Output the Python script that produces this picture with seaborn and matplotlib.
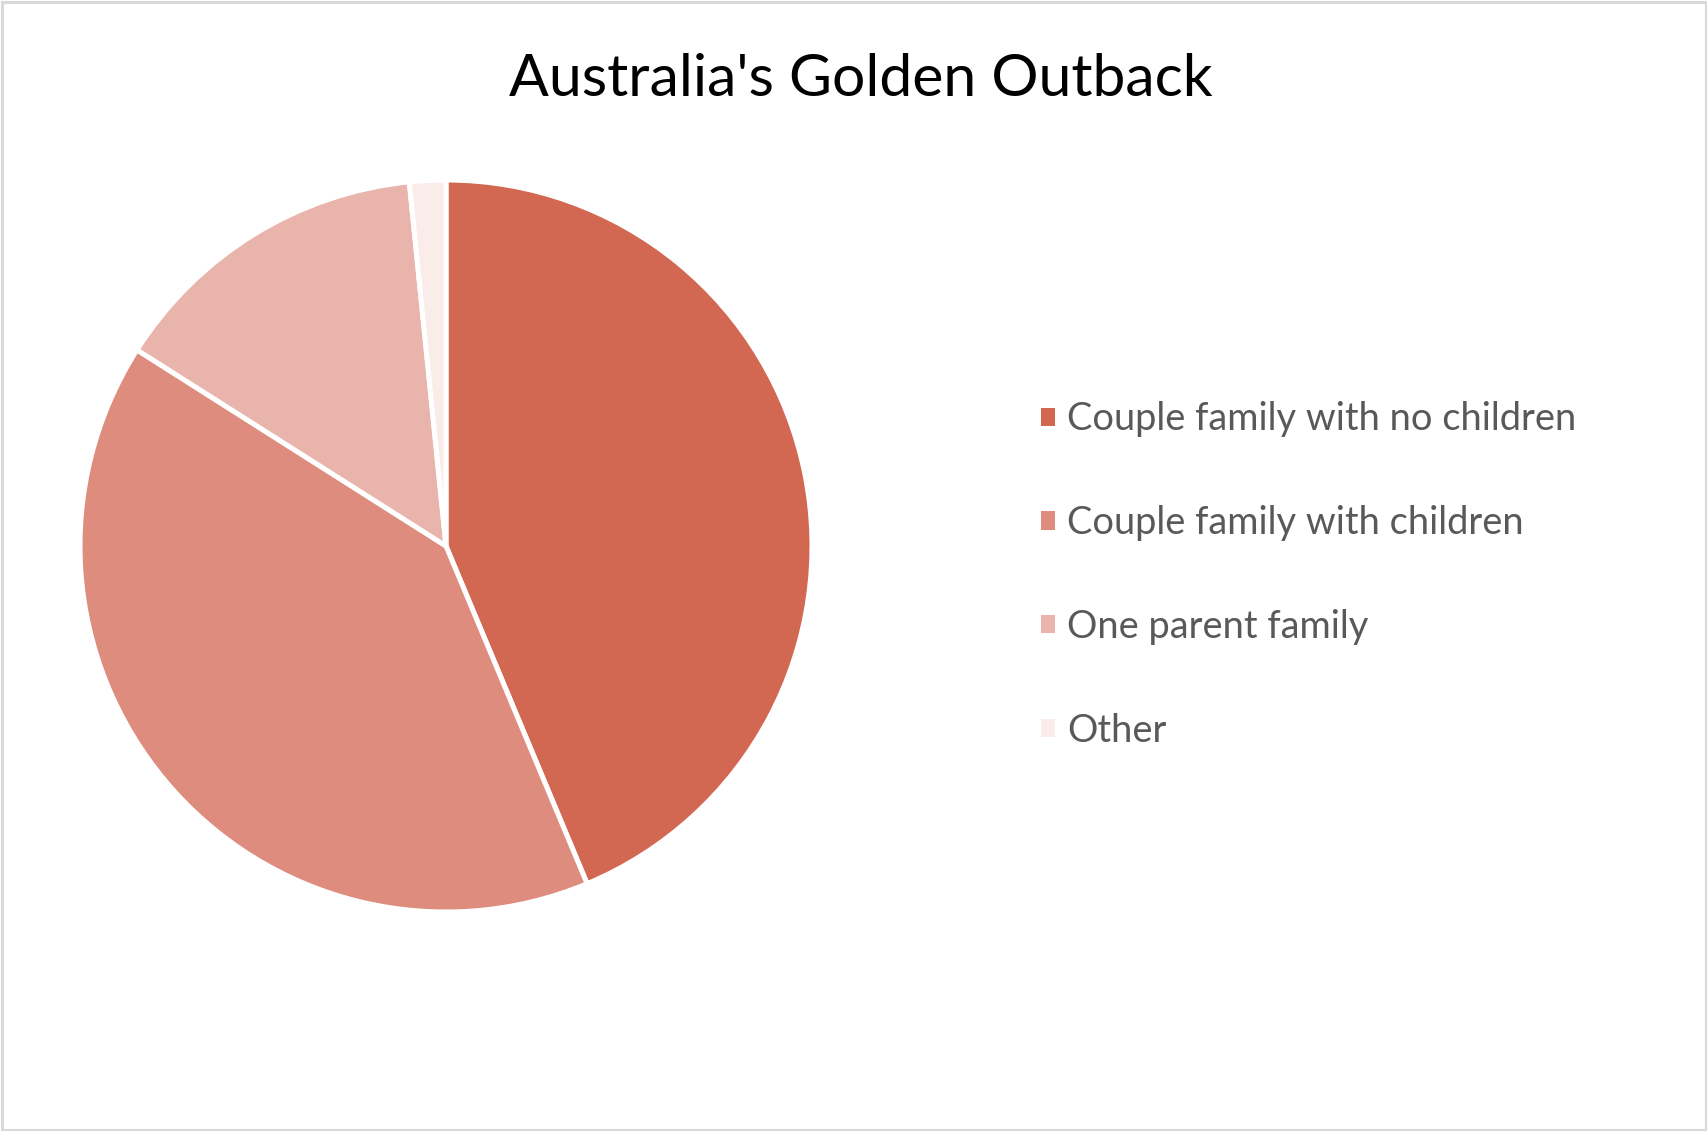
import matplotlib
matplotlib.use("Agg")
import matplotlib.pyplot as plt
import seaborn as sns
from matplotlib.patches import Rectangle

categories = ["Couple family with no children", "Couple family with children",
              "One parent family", "Other"]
values = [43.7, 40.3, 14.4, 1.6]
colors = ["#D26752", "#DD8C7E", "#E8B4AB", "#F9ECE9"]
title = "Australia's Golden Outback"

sns.set_theme(style="white")
plt.rcParams['font.family'] = ['Lato', 'DejaVu Sans']

W, H = 1708, 1131
fig = plt.figure(figsize=(W / 100, H / 100), dpi=100)
fig.patch.set_facecolor("white")

# border
fig.add_artist(Rectangle((0.001, 0.001), 0.998, 0.997, transform=fig.transFigure,
                         fill=False, edgecolor="#D9D9D9", linewidth=2.2))

cx, cy, r = 446, 546, 366
ax = fig.add_axes([(cx - r) / W, 1 - (cy + r) / H, 2 * r / W, 2 * r / H])
wedges, _ = ax.pie(values, colors=colors, startangle=90, counterclock=False,
                   wedgeprops=dict(edgecolor="white", linewidth=3.6))
ax.set_xlim(-1, 1)
ax.set_ylim(-1, 1)
ax.set_aspect("equal")
ax.axis("off")

fig.text(861 / W, 1 - 80 / H, title, ha="center", va="center",
         fontsize=42.4, color="black")

leg = fig.legend(wedges, categories, loc="center left",
                 bbox_to_anchor=(1041 / W, 1 - 575 / H), frameon=False,
                 fontsize=27.4, labelcolor="#595959", handlelength=0.37,
                 handleheight=0.37, handletextpad=0.32, labelspacing=1.78,
                 borderpad=0, borderaxespad=0)
for h in leg.legend_handles:
    h.set_edgecolor("none")

fig.savefig("out.png", dpi=100, facecolor="white")
